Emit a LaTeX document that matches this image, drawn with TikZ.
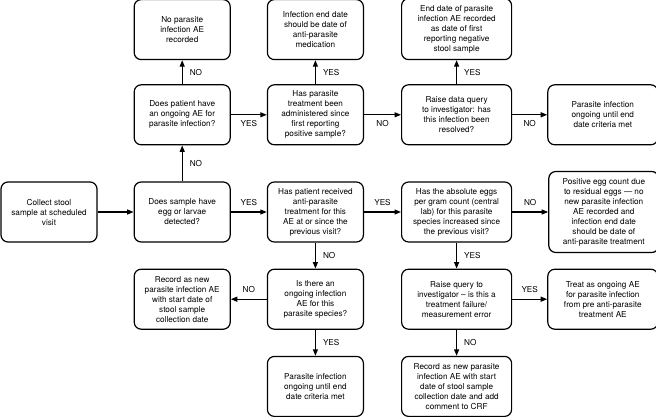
\documentclass[tikz,border=0pt]{standalone}
\usepackage{fontspec}
\setsansfont{TeX Gyre Heros}
\usetikzlibrary{arrows.meta, positioning}

\begin{document}
\begin{tikzpicture}[
    node distance=26pt and 36pt,
    font=\sffamily\fontsize{8.2}{10}\selectfont,
    >={Triangle[length=6.5pt,width=5pt]},
    box/.style={rectangle, draw=black, line width=1.2pt, rounded corners=7pt, fill=white, align=center, minimum height=60pt, minimum width=96pt, inner sep=2pt},
    widebox/.style={box, minimum width=110pt},
    line/.style={draw, ->, line width=1.2pt},
    lbl/.style={inner sep=1pt}
]
\useasboundingbox (0,0) rectangle (656pt,416pt);

% Nodes
\node[box] (collect) at (49pt,204pt) {Collect stool\\sample at scheduled\\visit};
\node[box, right=of collect] (sample) {Does sample have\\egg or larvae\\detected?};
\node[box, right=of sample] (treated) {Has patient received\\anti-parasite\\treatment for this\\AE at or since the\\previous visit?};
\node[widebox, right=37pt of treated] (increased) {Has the absolute eggs\\per gram count (central\\lab) for this parasite\\species increased since\\the previous visit?};
\node[widebox, right=of increased, minimum height=81pt] (residual) {Positive egg count due\\to residual eggs --- no\\new parasite infection\\AE recorded and\\infection end date\\should be date of\\anti-parasite treatment};

\node[box, above=36pt of sample] (ongoing) {Does patient have\\an ongoing AE for\\parasite infection?};
\node[box, above=24pt of ongoing] (noae) {No parasite\\infection AE\\recorded};
\node[box, right=of ongoing] (administered) {Has parasite\\treatment been\\administered since\\first reporting\\positive sample?};
\node[box, above=24pt of administered] (medication) {Infection end date\\should be date of\\anti-parasite\\medication};
\node[widebox, right=37pt of administered] (resolved) {Raise data query\\to investigator: has\\this infection been\\resolved?};
\node[widebox, above=24pt of resolved, minimum height=61pt] (negative) {End date of parasite\\infection AE recorded\\as date of first\\reporting negative\\stool sample};
\node[widebox, right=35pt of resolved] (untilendA) {Parasite infection\\ongoing until end\\date criteria met};

\node[box, below=of treated] (species) {Is there an\\ongoing infection\\AE for this\\parasite species?};
\node[box, left=of species] (newae) {Record as new\\parasite infection AE\\with start date of\\stool sample\\collection date};
\node[box, below=of species] (untilendB) {Parasite infection\\ongoing until end\\date criteria met};
\node[widebox, below=of increased] (failure) {Raise query to\\investigator -- is this a\\treatment failure/\\measurement error};
\node[widebox, right=35pt of failure] (treatongoing) {Treat as ongoing AE\\for parasite infection\\from pre anti-parasite\\treatment AE};
\node[widebox, below=of failure] (newaecrf) {Record as new parasite\\infection AE with start\\date of stool sample\\collection date and add\\comment to CRF};

% Edges
\draw[line] (collect) -- (sample);
\draw[line] (sample) -- node[lbl, midway, above=5pt] {YES} (treated);
\draw[line] (treated) -- node[lbl, midway, above=5pt] {YES} (increased);
\draw[line] (increased) -- node[lbl, midway, above=5pt] {NO} (residual);
\draw[line] (sample) -- node[lbl, midway, right=6pt] {NO} (ongoing);
\draw[line] (ongoing) -- node[lbl, midway, right=6pt] {NO} (noae);
\draw[line] (ongoing) -- node[lbl, midway, below=4pt] {YES} (administered);
\draw[line] (administered) -- node[lbl, midway, right=6pt] {YES} (medication);
\draw[line] (administered) -- node[lbl, midway, below=4pt] {NO} (resolved);
\draw[line] (resolved) -- node[lbl, midway, right=6pt] {YES} (negative);
\draw[line] (resolved) -- node[lbl, midway, below=4pt] {NO} (untilendA);

\draw[line] (treated) -- node[lbl, midway, right=6pt] {NO} (species);
\draw[line] (species) -- node[lbl, midway, above=5pt] {NO} (newae);
\draw[line] (species) -- node[lbl, midway, right=6pt] {YES} (untilendB);
\draw[line] (increased) -- node[lbl, midway, right=6pt] {YES} (failure);
\draw[line] (failure) -- node[lbl, midway, above=5pt] {YES} (treatongoing);
\draw[line] (failure) -- node[lbl, midway, right=6pt] {NO} (newaecrf);

\end{tikzpicture}
\end{document}
